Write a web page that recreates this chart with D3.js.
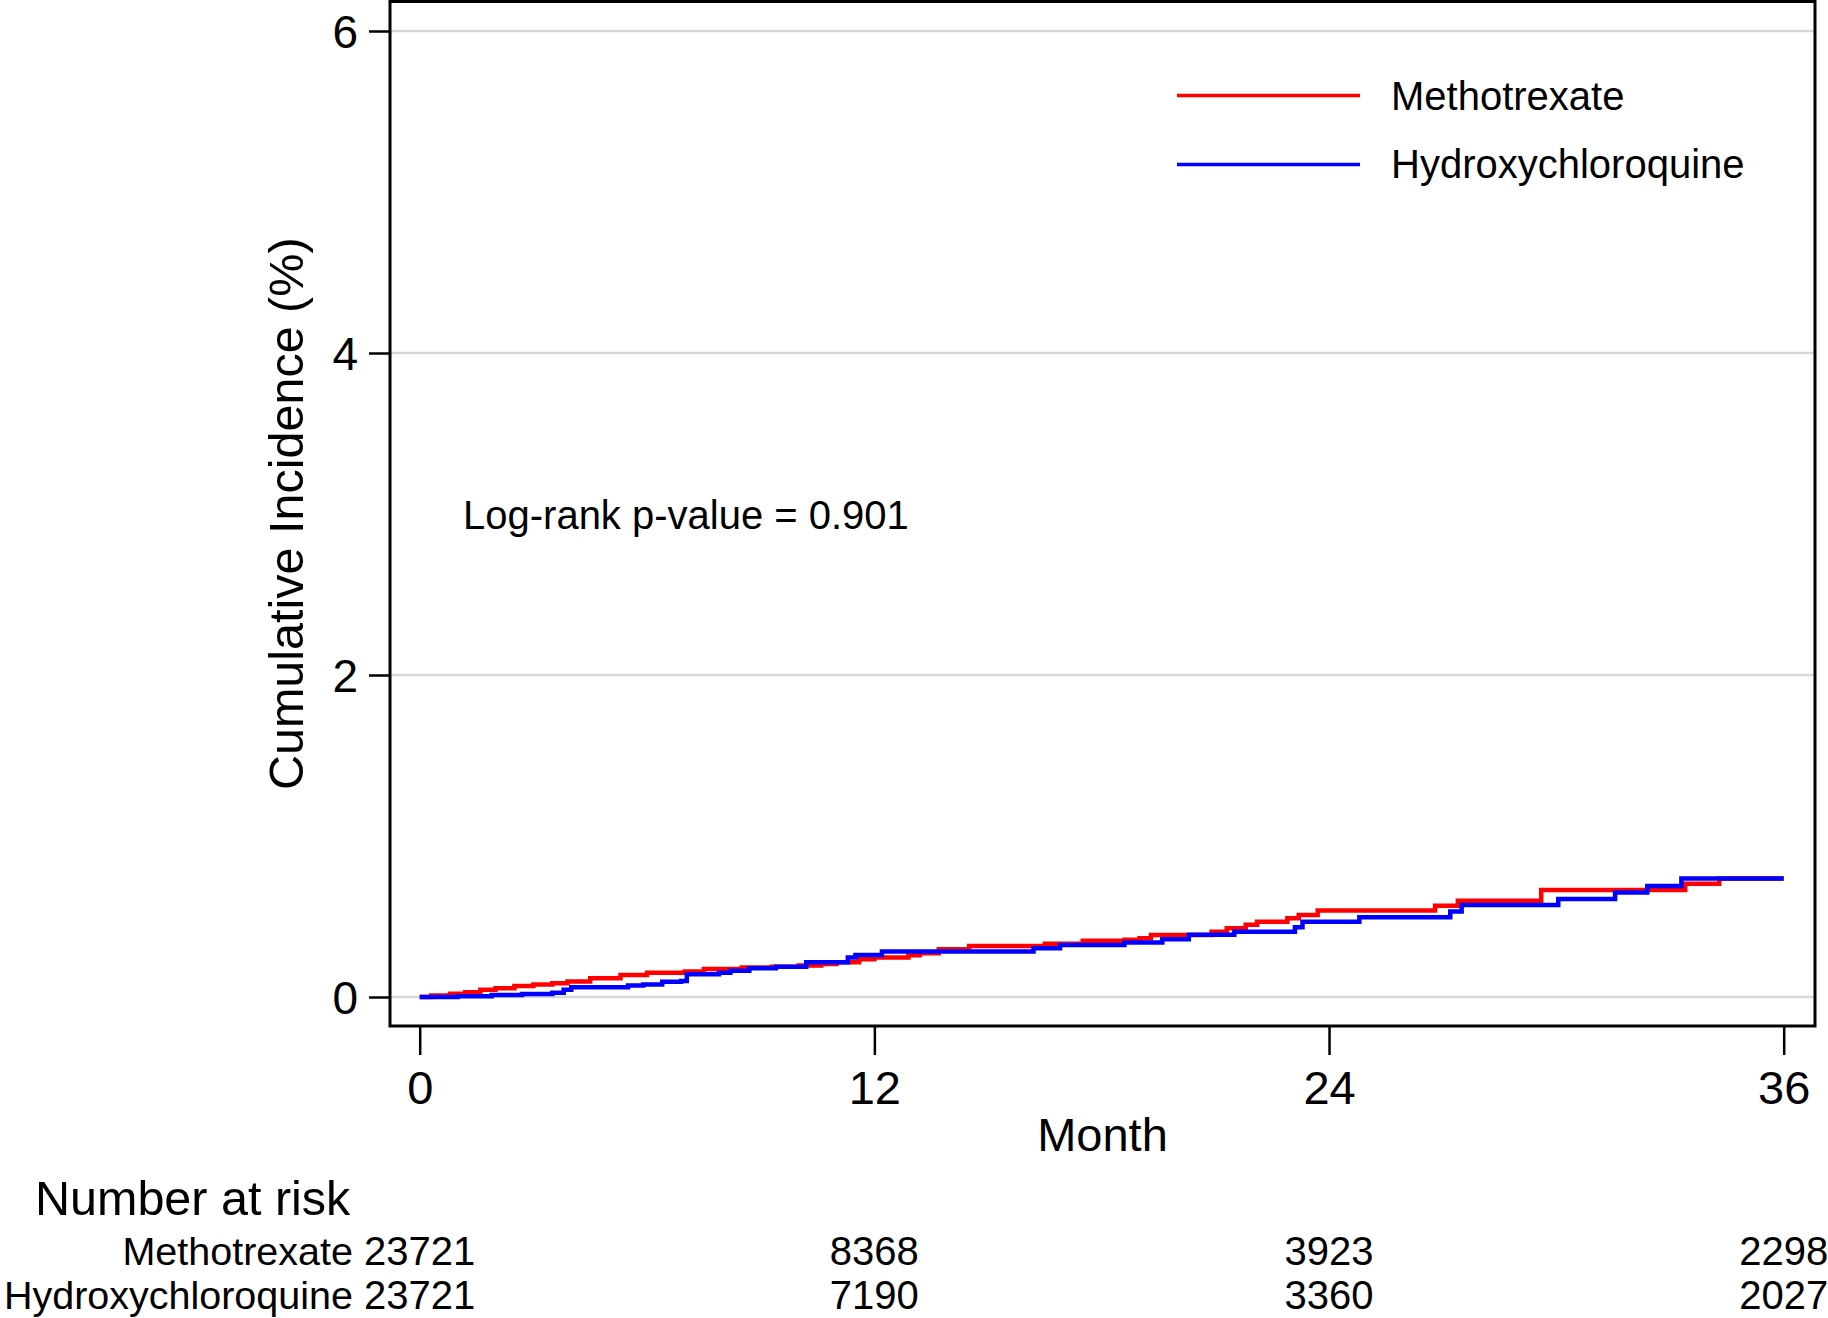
<!DOCTYPE html>
<html>
<head>
<meta charset="utf-8">
<script src="https://cdn.jsdelivr.net/npm/d3@7"></script>
<style>
  html, body { margin: 0; padding: 0; background: #fff; }
  svg { display: block; font-family: "Liberation Sans", Arial, sans-serif; }
</style>
</head>
<body>
<svg id="chart" width="1828" height="1318"></svg>
<script>
// ---------------- data ----------------
const seriesNames = ["Methotrexate", "Hydroxychloroquine"];
const seriesColors = ["#ff0000", "#0000ff"];

const mtxTime  = [0, 0.3, 0.8, 1.2, 1.6, 2.0, 2.5, 3.0, 3.5, 3.9, 4.5, 5.3, 6.0, 7.0, 7.5, 8.5, 9.3, 10.0, 10.6, 11.0, 11.6, 12.0, 12.9, 13.2, 13.7, 14.5, 16.5, 17.5, 18.6, 19.0, 19.3, 20.9, 21.3, 21.8, 22.1, 22.9, 23.2, 23.7, 26.8, 27.4, 29.6, 33.4, 34.3, 36];
const mtxValue = [0, 0.01, 0.02, 0.03, 0.045, 0.055, 0.068, 0.078, 0.085, 0.097, 0.116, 0.137, 0.151, 0.158, 0.174, 0.184, 0.188, 0.195, 0.205, 0.216, 0.234, 0.246, 0.260, 0.271, 0.296, 0.317, 0.330, 0.350, 0.356, 0.365, 0.385, 0.406, 0.427, 0.448, 0.468, 0.489, 0.510, 0.537, 0.566, 0.598, 0.665, 0.703, 0.736, 0.736];

const hcqTime  = [0, 1.0, 1.9, 2.7, 3.5, 3.8, 4.0, 5.5, 5.9, 6.4, 6.9, 7.05, 7.9, 8.2, 8.7, 9.4, 10.2, 11.3, 11.5, 12.2, 16.2, 16.9, 18.6, 19.6, 20.3, 21.5, 23.1, 23.3, 24.8, 27.2, 27.5, 30.05, 31.55, 32.4, 33.3, 36];
const hcqValue = [0, 0.004, 0.012, 0.018, 0.027, 0.045, 0.060, 0.072, 0.078, 0.095, 0.100, 0.141, 0.151, 0.163, 0.178, 0.188, 0.216, 0.246, 0.261, 0.282, 0.303, 0.323, 0.338, 0.359, 0.386, 0.406, 0.433, 0.468, 0.496, 0.531, 0.572, 0.608, 0.649, 0.690, 0.736, 0.736];

const xTicks = [0, 12, 24, 36];
const yTicks = [0, 2, 4, 6];
const riskTimes = [0, 12, 24, 36];
const riskMtx = [23721, 8368, 3923, 2298];
const riskHcq = [23721, 7190, 3360, 2027];
const pValueText = "Log-rank p-value = 0.901";

// ---------------- layout ----------------
const svg = d3.select("#chart");
const frame = { left: 390, right: 1815, top: 1.5, bottom: 1026 };
const x = d3.scaleLinear().domain([0, 36]).range([419.7, 1783.7]);
const y = d3.scaleLinear().domain([0, 6]).range([997, 31]);

// gridlines
svg.append("g").selectAll("line").data(yTicks).join("line")
  .attr("x1", frame.left).attr("x2", frame.right)
  .attr("y1", d => y(d)).attr("y2", d => y(d))
  .attr("stroke", "#d8d8d8").attr("stroke-width", 2.5);

// curves
const line = d3.line().x(d => x(d[0])).y(d => y(d[1])).curve(d3.curveStepAfter);
const series = [
  d3.zip(mtxTime, mtxValue),
  d3.zip(hcqTime, hcqValue)
];
series.forEach((s, i) => {
  svg.append("path").datum(s)
    .attr("d", line)
    .attr("fill", "none")
    .attr("stroke", seriesColors[i])
    .attr("stroke-width", 4.5)
    .attr("stroke-linejoin", "miter");
});

// frame
svg.append("rect")
  .attr("x", frame.left).attr("y", frame.top)
  .attr("width", frame.right - frame.left).attr("height", frame.bottom - frame.top)
  .attr("fill", "none").attr("stroke", "#000").attr("stroke-width", 3);

// y axis
const yAxis = svg.append("g").attr("transform", `translate(${frame.left},0)`)
  .call(d3.axisLeft(y).tickValues(yTicks).tickSize(21).tickPadding(10).tickFormat(d3.format("d")));
yAxis.select(".domain").remove();
yAxis.selectAll(".tick line").attr("stroke", "#000").attr("stroke-width", 2.5);
yAxis.selectAll(".tick text").attr("font-size", 46).attr("fill", "#000")
  .attr("font-family", "'Liberation Sans', Arial, sans-serif").attr("x", -32).attr("dy", "0.36em");

// x axis
const xAxis = svg.append("g").attr("transform", `translate(0,${frame.bottom})`)
  .call(d3.axisBottom(x).tickValues(xTicks).tickSize(29).tickFormat(d3.format("d")));
xAxis.select(".domain").remove();
xAxis.selectAll(".tick line").attr("stroke", "#000").attr("stroke-width", 2.5);
xAxis.selectAll(".tick text").attr("font-size", 47).attr("fill", "#000")
  .attr("font-family", "'Liberation Sans', Arial, sans-serif").attr("y", 78).attr("dy", 0);

// axis titles
svg.append("text").attr("x", (frame.left + frame.right) / 2).attr("y", 1151)
  .attr("text-anchor", "middle").attr("font-size", 47).text("Month");
svg.append("text").attr("transform", `translate(303,${(frame.top + frame.bottom) / 2}) rotate(-90)`)
  .attr("text-anchor", "middle").attr("font-size", 48.5).text("Cumulative Incidence (%)");

// p-value
svg.append("text").attr("x", 463).attr("y", 529).attr("font-size", 40).text(pValueText);

// legend
const legendY = [95.6, 164.4];
seriesNames.forEach((name, i) => {
  svg.append("line").attr("x1", 1177).attr("x2", 1360)
    .attr("y1", legendY[i]).attr("y2", legendY[i])
    .attr("stroke", seriesColors[i]).attr("stroke-width", 3.5);
  svg.append("text").attr("x", 1391).attr("y", legendY[i] + 14)
    .attr("font-size", 40).text(name);
});

// number at risk
svg.append("text").attr("x", 35).attr("y", 1215).attr("font-size", 48.5).text("Number at risk");
const riskRows = [riskMtx, riskHcq];
const riskY = [1265, 1309];
riskRows.forEach((row, i) => {
  svg.append("text").attr("x", 353).attr("y", riskY[i]).attr("text-anchor", "end")
    .attr("font-size", 39.5).text(seriesNames[i]);
  svg.append("g").selectAll("text").data(row).join("text")
    .attr("x", (d, j) => x(riskTimes[j])).attr("y", riskY[i])
    .attr("text-anchor", "middle").attr("font-size", 40).text(d => d);
});
</script>
</body>
</html>
